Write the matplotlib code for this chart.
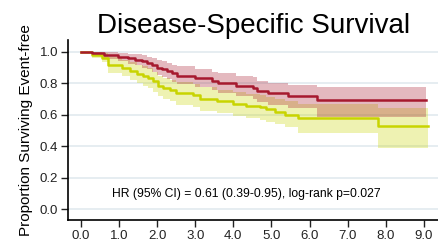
import matplotlib
matplotlib.use("Agg")
import matplotlib.pyplot as plt
import numpy as np

plt.rcParams["font.family"] = ["Liberation Sans", "DejaVu Sans"]

# Grupo rojo: tiempos, supervivencia e IC 95%
t_red = [0, 0.28, 0.6, 0.97, 1.24, 1.42, 1.59, 1.72, 1.86, 1.99, 2.12, 2.25, 2.38,
         2.51, 2.99, 3.43, 3.6, 4.08, 4.52, 4.61, 4.9, 5.43, 6.19]
s_red = [1.0, 0.993, 0.98, 0.97, 0.96, 0.95, 0.94, 0.93, 0.917, 0.90, 0.89, 0.877, 0.864,
         0.85, 0.832, 0.815, 0.80, 0.785, 0.769, 0.75, 0.737, 0.72, 0.695]
up_red = [1.0, 1.0, 1.0, 0.995, 0.99, 0.985, 0.978, 0.97, 0.96, 0.948, 0.94, 0.93, 0.92,
          0.91, 0.89, 0.875, 0.865, 0.85, 0.843, 0.817, 0.805, 0.79, 0.777]
lo_red = [1.0, 0.975, 0.955, 0.94, 0.925, 0.915, 0.90, 0.89, 0.875, 0.855, 0.84, 0.825, 0.81,
          0.795, 0.775, 0.755, 0.74, 0.72, 0.70, 0.68, 0.665, 0.645, 0.586]
end_red = 9.05

# Grupo amarillo
t_yel = [0, 0.28, 0.54, 0.72, 1.07, 1.28, 1.46, 1.63, 1.77, 1.9, 2.03, 2.16, 2.33, 2.5,
         2.94, 3.12, 3.56, 4.0, 4.34, 4.7, 4.87, 5.09, 5.35, 5.7, 7.8]
s_yel = [1.0, 0.98, 0.964, 0.917, 0.90, 0.877, 0.86, 0.85, 0.835, 0.813, 0.786, 0.77, 0.756, 0.74,
         0.725, 0.70, 0.686, 0.67, 0.658, 0.647, 0.636, 0.62, 0.60, 0.578, 0.53]
up_yel = [1.0, 1.0, 0.995, 0.965, 0.95, 0.935, 0.92, 0.91, 0.895, 0.875, 0.85, 0.835, 0.82, 0.81,
          0.795, 0.775, 0.76, 0.745, 0.735, 0.725, 0.715, 0.70, 0.685, 0.667, 0.645]
lo_yel = [1.0, 0.96, 0.935, 0.865, 0.845, 0.82, 0.80, 0.785, 0.77, 0.745, 0.72, 0.70, 0.685, 0.665,
          0.65, 0.625, 0.61, 0.595, 0.58, 0.57, 0.555, 0.54, 0.52, 0.485, 0.39]
end_yel = 9.12

titulo = "Disease-Specific Survival"
eje_y = "Proportion Surviving Event-free"
texto_hr = "HR (95% CI) = 0.61 (0.39-0.95), log-rank p=0.027"
xticks = [0, 1, 2, 3, 4, 5, 6, 7, 8, 9]
yticks = [0.0, 0.2, 0.4, 0.6, 0.8, 1.0]

c_red = "#A6192E"
c_yel = "#C8D400"


def extender(t, *cols, fin):
    # repite el último valor hasta el final del seguimiento
    t2 = list(t) + [fin]
    return [t2] + [list(c) + [c[-1]] for c in cols]


fig = plt.figure(figsize=(4.39, 2.44), dpi=100)
ax = fig.add_axes([0.155, 0.098, 0.845, 0.738])

for t, s, lo, up, fin, col in [(t_yel, s_yel, lo_yel, up_yel, end_yel, c_yel),
                               (t_red, s_red, lo_red, up_red, end_red, c_red)]:
    tt, ss, ll, uu = extender(t, s, lo, up, fin=fin)
    ax.fill_between(tt, ll, uu, step="post", color=col, alpha=0.3, lw=0)

for t, s, fin, col in [(t_yel, s_yel, end_yel, c_yel), (t_red, s_red, end_red, c_red)]:
    tt, ss = extender(t, s, fin=fin)
    ax.step(tt, ss, where="post", color=col, lw=1.8)

ax.set_xlim(-0.34, 9.4)
ax.set_ylim(-0.07, 1.076)
ax.set_xticks(xticks)
ax.set_xticklabels([f"{v:.1f}" for v in xticks])
ax.set_yticks(yticks)
ax.set_yticklabels([f"{v:.1f}" for v in yticks])
for y in yticks:
    ax.axhline(y, color="#E4ECF0", lw=1.3, zorder=0)

for lado in ["top", "right"]:
    ax.spines[lado].set_visible(False)
ax.spines["left"].set_linewidth(1.2)
ax.spines["bottom"].set_linewidth(1.2)
ax.tick_params(labelsize=9.5, length=5, width=1, pad=2, colors="#222222")

ax.set_title(titulo, fontsize=20, pad=5)
ax.set_ylabel(eje_y, fontsize=11, labelpad=5)
ax.text(4.33, 0.096, texto_hr, fontsize=8.7, ha="center", va="center")

fig.savefig("out.png", dpi=100)
